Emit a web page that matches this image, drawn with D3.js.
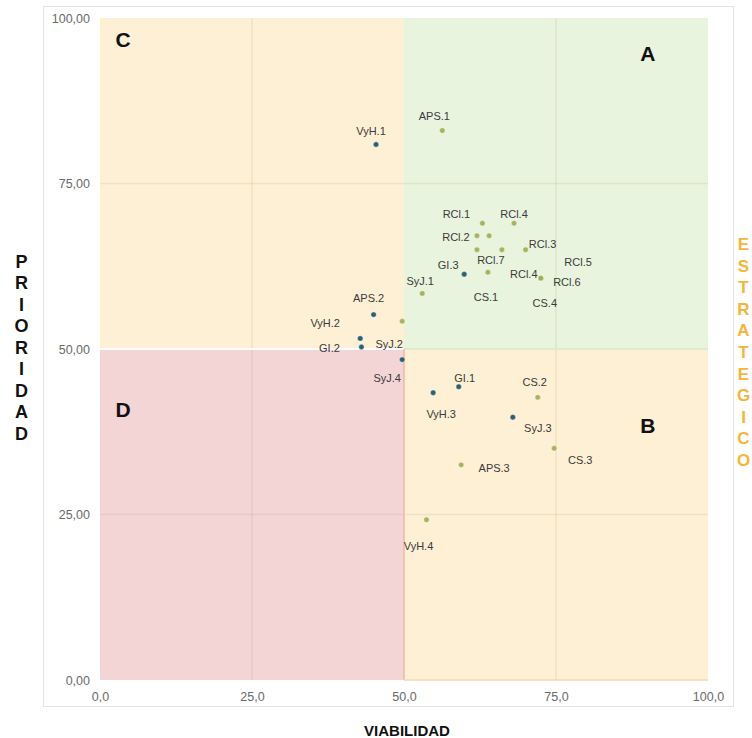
<!DOCTYPE html>
<html>
<head>
<meta charset="utf-8">
<script src="https://cdn.jsdelivr.net/npm/d3@7"></script>
<style>
  body { margin: 0; background: #fff; }
  text { font-family: "Liberation Sans", Arial, sans-serif; }
</style>
</head>
<body>
<div id="chart"></div>
<script>
// datos
var codigos = ["APS.1", "VyH.1", "RCl.1", "RCl.4", "RCl.2", "RCl.5", "CS.1", "RCl.6", "RCl.3", "RCl.7",
  "RCl.4", "CS.4", "GI.3", "SyJ.1", "APS.2", "SyJ.2", "VyH.2", "GI.2", "SyJ.4", "GI.1",
  "VyH.3", "CS.2", "SyJ.3", "CS.3", "APS.3", "VyH.4"];
var viabilidad = [56.3, 45.4, 62.9, 68.1, 62.0, 64.0, 62.0, 66.1, 70.0, 63.8,
  72.5, 72.5, 59.9, 53.0, 45.0, 49.7, 42.8, 43.0, 49.7, 59.0,
  54.8, 72.0, 67.9, 74.7, 59.4, 53.7];
var prioridad = [83.0, 80.9, 69.0, 69.0, 67.1, 67.1, 65.0, 65.0, 65.0, 61.6,
  60.7, 60.7, 61.3, 58.4, 55.2, 54.2, 51.6, 50.3, 48.4, 44.3,
  43.4, 42.7, 39.7, 35.0, 32.5, 24.2];
var serie = ["s2", "s1", "s2", "s2", "s2", "s2", "s2", "s2", "s2", "s2",
  "s2", "s2", "s1", "s2", "s1", "s2", "s1", "s1", "s1", "s1",
  "s1", "s2", "s1", "s2", "s2", "s2"];

// desplazamiento de cada etiqueta respecto a su punto (px)
var etiquetaDx = [-8, -5, -26, 0, -21, 89, 9, 65, 17, 3, -17, 4, -16, -2, -5, -13, -35, -32, -15, 6, 8, -3, 25, 26, 33, -8];
var etiquetaDy = [-15, -13, -9, -9, 1, 26, 47, 32, -6, -12, -4, 25, -9, -12, -17, 23, -15, 1, 18, -9, 21, -15, 11, 12, 3, 26];

var ticksY = [0, 25, 50, 75, 100];
var ticksX = [0, 25, 50, 75, 100];

var letras = ["C", "A", "D", "B"];
var letraX = [3.8, 90.1, 3.8, 90.1];
var letraY = [96.7, 94.7, 40.9, 38.5];

var svgWidth = 752;
var svgHeight = 738;

var svg = d3.select("#chart")
  .append("svg")
  .attr("width", svgWidth)
  .attr("height", svgHeight);

var x = d3.scaleLinear().domain([0, 100]).range([100, 708]);
var y = d3.scaleLinear().domain([0, 100]).range([680, 18]);

// marco del grafico
svg.append("rect")
  .attr("x", 43.5).attr("y", 6.5)
  .attr("width", 690).attr("height", 700)
  .attr("fill", "#fff")
  .attr("stroke", "#e3e3e3");

// cuadrantes
var cuadrantes = [
  {x0: 0, x1: 50, y0: 50, y1: 100, color: "#fef0d5"},
  {x0: 50, x1: 100, y0: 50, y1: 100, color: "#e9f4de"},
  {x0: 0, x1: 50, y0: 0, y1: 50, color: "#f3d5d5"},
  {x0: 50, x1: 100, y0: 0, y1: 50, color: "#fef0d5"}
];

svg.selectAll("rect.cuadrante")
  .data(cuadrantes)
  .enter()
  .append("rect")
  .attr("class", "cuadrante")
  .attr("x", d => x(d.x0))
  .attr("y", d => y(d.y1))
  .attr("width", d => x(d.x1) - x(d.x0))
  .attr("height", d => y(d.y0) - y(d.y1))
  .attr("fill", d => d.color);

// lineas de cuadricula
var grid = svg.append("g").attr("stroke", "rgba(140,110,70,0.11)").attr("stroke-width", 1.5);
[25, 75].forEach(function(v) {
  grid.append("line")
    .attr("x1", x(v)).attr("x2", x(v))
    .attr("y1", y(0)).attr("y2", y(100));
  grid.append("line")
    .attr("x1", x(0)).attr("x2", x(100))
    .attr("y1", y(v)).attr("y2", y(v));
});

// bordes entre cuadrantes
svg.append("line")
  .attr("x1", x(0)).attr("x2", x(50))
  .attr("y1", y(50)).attr("y2", y(50))
  .attr("stroke", "#fff").attr("stroke-width", 2);
svg.append("line")
  .attr("x1", x(50)).attr("x2", x(100))
  .attr("y1", y(50)).attr("y2", y(50))
  .attr("stroke", "#d6eacb").attr("stroke-width", 1.5);
svg.append("line")
  .attr("x1", x(50)).attr("x2", x(50))
  .attr("y1", y(0)).attr("y2", y(50))
  .attr("stroke", "#f1b9a6").attr("stroke-width", 1.5);
svg.append("line")
  .attr("x1", x(50)).attr("x2", x(100))
  .attr("y1", y(0)).attr("y2", y(0))
  .attr("stroke", "#f6d9b0").attr("stroke-width", 1.5);

// ejes
var coma = function(fmt) {
  return function(d) { return d3.format(fmt)(d).replace(".", ","); };
};

var ejeY = svg.append("g")
  .attr("transform", "translate(" + x(0) + ",0)")
  .call(d3.axisLeft(y).tickValues(ticksY).tickFormat(coma(".2f")).tickSize(0).tickPadding(10));

var ejeX = svg.append("g")
  .attr("transform", "translate(0," + y(0) + ")")
  .call(d3.axisBottom(x).tickValues(ticksX).tickFormat(coma(".1f")).tickSize(0).tickPadding(12));

[ejeX, ejeY].forEach(function(g) {
  g.select(".domain").remove();
  g.selectAll("text")
    .style("font-family", "'Liberation Sans', Arial, sans-serif")
    .style("font-size", "12.5px")
    .attr("fill", "#6a6a6a");
});

// letras de cuadrante
svg.selectAll("text.letra")
  .data(letras)
  .enter()
  .append("text")
  .attr("class", "letra")
  .attr("x", (d, i) => x(letraX[i]))
  .attr("y", (d, i) => y(letraY[i]))
  .attr("text-anchor", "middle")
  .attr("dominant-baseline", "central")
  .style("font-size", "21px")
  .style("font-weight", "bold")
  .attr("fill", "#111")
  .text(d => d);

// puntos
var puntos = codigos.map(function(c, i) {
  return {codigo: c, vx: viabilidad[i], vy: prioridad[i], serie: serie[i], dx: etiquetaDx[i], dy: etiquetaDy[i]};
});

svg.selectAll("circle")
  .data(puntos)
  .enter()
  .append("circle")
  .attr("cx", d => x(d.vx))
  .attr("cy", d => y(d.vy))
  .attr("r", 2.7)
  .attr("fill", d => d.serie == "s1" ? "#2d6070" : "#9dad4e")
  .attr("fill-opacity", d => d.serie == "s1" ? 1 : 0.9)
  .attr("stroke", "#fff")
  .attr("stroke-opacity", 0.6)
  .attr("stroke-width", 0.6);

svg.selectAll("text.etiqueta")
  .data(puntos)
  .enter()
  .append("text")
  .attr("class", "etiqueta")
  .attr("x", d => x(d.vx) + d.dx)
  .attr("y", d => y(d.vy) + d.dy)
  .attr("text-anchor", "middle")
  .attr("dominant-baseline", "central")
  .style("font-size", "11px")
  .attr("fill", "#3a3a3a")
  .text(d => d.codigo);

// titulos de ejes
svg.append("text")
  .attr("x", 407)
  .attr("y", 730)
  .attr("text-anchor", "middle")
  .attr("dominant-baseline", "central")
  .style("font-size", "15px")
  .style("font-weight", "bold")
  .attr("fill", "#111")
  .text("VIABILIDAD");

var vertical = function(palabra, cx, y0, paso, color, size) {
  svg.append("text")
    .attr("text-anchor", "middle")
    .style("font-size", size)
    .style("font-weight", "bold")
    .attr("fill", color)
    .selectAll("tspan")
    .data(palabra.split(""))
    .enter()
    .append("tspan")
      .attr("x", cx)
      .attr("y", (d, i) => y0 + i * paso)
      .attr("dominant-baseline", "central")
      .text(d => d);
};

vertical("PRIORIDAD", 21.5, 261.5, 21.5, "#111", "18px");
vertical("ESTRATEGICO", 743.5, 244.5, 21.6, "#f4b53a", "17px");
</script>
</body>
</html>
